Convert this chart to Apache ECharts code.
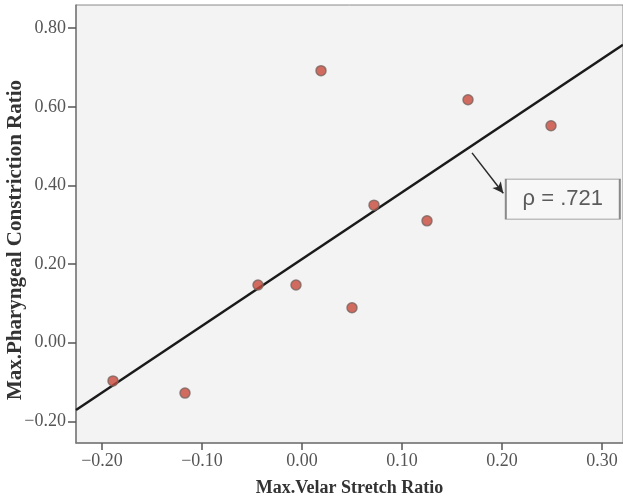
<!DOCTYPE html>
<html>
<head>
<meta charset="utf-8">
<script src="https://cdn.jsdelivr.net/npm/echarts@6/dist/echarts.min.js"></script>
<style>
  html, body { margin: 0; padding: 0; background: #ffffff; }
  #chart { width: 623px; height: 499px; }
</style>
</head>
<body>
<div id="chart"></div>
<script>
// Velar stretch vs. pharyngeal constriction, one point per subject
const velarStretch = [-0.189, -0.117, -0.044, -0.006, 0.050, 0.072, 0.125, 0.019, 0.166, 0.249];
const pharyngealConstriction = [-0.097, -0.128, 0.147, 0.147, 0.089, 0.350, 0.310, 0.692, 0.618, 0.552];

// Fitted line, ends at the plot edges
const fitX = [-0.226, 0.321];
const fitY = [-0.171, 0.758];

// Correlation callout: arrow from the fit line to the label box
const rhoText = 'ρ = .721';
const arrowFrom = [0.170, 0.483];
const arrowTo = [0.2013, 0.380];
const rhoBoxAt = [0.2608, 0.365];

// Axis tick values
const xTicks = [-0.20, -0.10, 0.00, 0.10, 0.20, 0.30];
const yTicks = [-0.20, 0.00, 0.20, 0.40, 0.60, 0.80];

const fmt = v => v.toFixed(2).replace('-', '\u2212');

const points = velarStretch.map((x, i) => [x, pharyngealConstriction[i]]);
const fitLine = fitX.map((x, i) => [x, fitY[i]]);

const serif = '"Liberation Serif", "DejaVu Serif", serif';

const chart = echarts.init(document.getElementById('chart'), null, { renderer: 'canvas' });
chart.setOption({
  backgroundColor: '#ffffff',
  animation: false,
  grid: {
    left: 76, top: 5, right: 0, bottom: 56,
    outerBoundsMode: 'none',
    containLabel: false,
    show: true,
    backgroundColor: '#f3f3f3',
    borderColor: '#8a8a8a',
    borderWidth: 1
  },
  xAxis: {
    type: 'value',
    min: -0.226, max: 0.321,
    name: 'Max.Velar Stretch Ratio',
    nameLocation: 'middle',
    nameGap: 36,
    nameMoveOverlap: false,
    nameTextStyle: { fontFamily: serif, fontWeight: 'bold', fontSize: 18, color: '#333' },
    axisLine: { show: true, onZero: false, lineStyle: { color: '#7a7a7a', width: 1.5 } },
    axisTick: { show: true, inside: false, length: 7, customValues: xTicks, lineStyle: { color: '#555', width: 1.5 } },
    axisLabel: {
      customValues: xTicks, formatter: fmt, margin: 9,
      fontFamily: serif, fontSize: 18, color: '#555'
    },
    splitLine: { show: false }
  },
  yAxis: {
    type: 'value',
    min: -0.255, max: 0.859,
    name: 'Max.Pharyngeal Constriction Ratio',
    nameLocation: 'middle',
    nameGap: 50,
    nameMoveOverlap: false,
    nameRotate: 90,
    nameTextStyle: { fontFamily: serif, fontWeight: 'bold', fontSize: 21, color: '#333', padding: [0, 32, 0, 0] },
    axisLine: { show: true, onZero: false, lineStyle: { color: '#7a7a7a', width: 1.5 } },
    axisTick: { show: true, inside: false, length: 8, customValues: yTicks, lineStyle: { color: '#555', width: 1.5 } },
    axisLabel: {
      customValues: yTicks, formatter: fmt, margin: 10,
      fontFamily: serif, fontSize: 18, color: '#555'
    },
    splitLine: { show: false }
  },
  series: [
    {
      type: 'line',
      data: fitLine,
      symbol: 'none',
      lineStyle: { color: '#1a1a1a', width: 2.5 },
      z: 2,
      markLine: {
        silent: true,
        symbol: ['none', 'arrow'],
        symbolSize: [8, 11],
        lineStyle: { color: '#2a2a2a', width: 1.5, type: 'solid' },
        label: { show: false },
        data: [[{ coord: arrowFrom }, { coord: arrowTo }]]
      }
    },
    {
      type: 'scatter',
      data: points,
      symbol: 'circle',
      symbolSize: 10,
      itemStyle: { color: '#c8473a', borderColor: '#7b6560', borderWidth: 1.5 },
      z: 3
    },
    {
      type: 'scatter',
      data: [rhoBoxAt],
      symbol: 'rect',
      symbolSize: [114, 40],
      itemStyle: { color: '#f7f7f7', borderColor: '#6e6e6e', borderWidth: 1.2 },
      label: {
        show: true,
        position: 'inside',
        formatter: rhoText,
        fontFamily: '"Liberation Sans", Arial, sans-serif',
        fontSize: 22,
        color: '#333'
      },
      z: 4
    }
  ]
});
</script>
</body>
</html>
